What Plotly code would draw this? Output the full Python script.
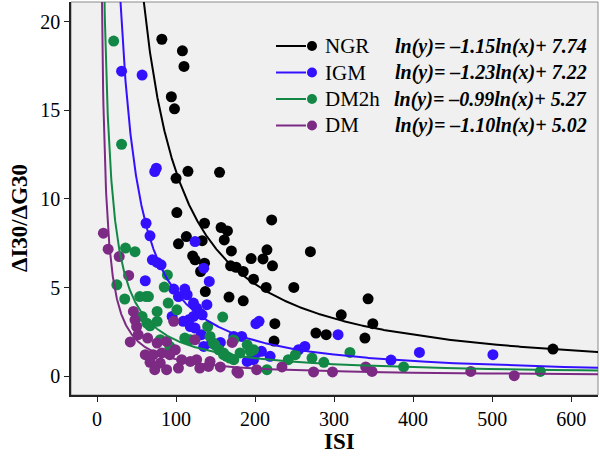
import numpy as np
import plotly.graph_objects as go

groups = ["NGR", "IGM", "DM2h", "DM"]
colors = ["#000000", "#3311ff", "#138846", "#7d2a84"]
slopes = [-1.15, -1.23, -0.99, -1.10]
intercepts = [7.74, 7.22, 5.27, 5.02]
equations = [
    "ln(y)= \u20131.15ln(x)+ 7.74",
    "ln(y)= \u20131.23ln(x)+ 7.22",
    "ln(y)= \u20130.99ln(x)+ 5.27",
    "ln(y)= \u20131.10ln(x)+ 5.02",
]

ngr_x = [82, 108, 110, 94, 98, 100, 115, 155, 101, 136, 157, 165, 161, 170, 195, 113, 103, 133,
         121, 124, 136, 131, 169, 176, 185, 198, 137, 167, 185, 221, 215, 270, 210, 222, 214, 249,
         343, 309, 349, 225, 277, 290, 339, 224, 577]
ngr_y = [19.0, 18.35, 17.47, 15.76, 15.08, 11.16, 11.56, 11.5, 9.23, 8.63, 8.39, 8.2, 7.69, 7.07,
         6.64, 7.88, 7.47, 7.65, 6.79, 6.57, 6.38, 5.91, 6.23, 6.15, 5.91, 5.48, 4.78, 4.47, 4.26,
         8.82, 7.13, 7.03, 6.62, 6.23, 5.01, 5.01, 4.37, 3.47, 2.97, 2.97, 2.44, 2.35, 2.16, 1.99, 1.54]

igm_x = [31, 57, 73, 75, 62, 67, 124, 70, 76, 81, 135, 61, 142, 97, 111, 114, 103, 122, 126, 130,
         122, 116, 109, 118, 124, 95, 201, 205, 132, 135, 145, 156, 173, 183, 190, 198, 202, 139,
         133, 305, 208, 219, 255, 263, 372, 408, 501]
igm_y = [17.2, 16.98, 11.54, 11.73, 8.63, 7.92, 7.6, 6.57, 6.42, 6.29, 6.1, 5.39, 5.35, 4.92, 4.92,
         4.6, 4.5, 4.13, 3.85, 3.57, 3.38, 3.19, 3.1, 2.81, 2.72, 3.38, 2.97, 3.1, 2.35, 1.69, 1.88,
         1.91, 2.25, 2.25, 0.84, 0.94, 1.32, 4.04, 3.47, 2.35, 1.41, 1.13, 1.5, 1.69, 0.92, 1.35, 1.22]

dm2h_x = [21, 31, 36, 48, 25, 35, 62, 65, 54, 85, 89, 90, 101, 57, 63, 76, 76, 67, 159, 140, 111,
          118, 143, 147, 154, 160, 164, 173, 181, 190, 198, 80, 92, 149, 160, 168, 173, 194, 242,
          251, 272, 287, 320, 215, 388, 561]
dm2h_y = [18.9, 13.08, 7.23, 7.03, 5.16, 4.36, 4.5, 4.5, 4.5, 5.03, 5.72, 4.13, 3.75, 3.38, 3.0,
          3.66, 3.1, 2.85, 3.34, 2.81, 2.16, 2.07, 2.25, 1.88, 1.5, 1.32, 1.13, 0.94, 1.32, 1.78,
          1.5, 2.07, 1.69, 1.78, 1.22, 1.03, 2.07, 1.41, 0.94, 1.22, 1.03, 0.79, 1.35, 0.38, 0.53, 0.28]

dm_x = [8, 14, 28, 40, 46, 48, 50, 52, 42, 97, 64, 76, 88, 99, 61, 71, 82, 92, 67, 80, 73, 88, 103,
        107, 118, 126, 130, 141, 156, 124, 171, 177, 202, 143, 179, 234, 274, 298, 340, 348, 473, 528]
dm_y = [8.07, 7.17, 6.75, 5.69, 3.66, 3.19, 2.81, 2.35, 1.94, 3.1, 2.16, 1.88, 1.97, 1.5, 1.22, 1.22,
        1.32, 1.22, 0.79, 0.75, 0.38, 0.38, 0.47, 0.94, 0.84, 0.94, 0.47, 0.56, 0.53, 2.07, 1.91, 0.28,
        0.38, 0.84, 0.19, 0.53, 0.25, 0.25, 0.53, 0.28, 0.28, 0.04]

xs = [ngr_x, igm_x, dm2h_x, dm_x]
ys = [ngr_y, igm_y, dm2h_y, dm_y]

W, H = 600, 461
L, R, T, B = 71, 2, 2, 66
pw, ph = W - L - R, H - T - B

def px2paper(x, y):
    return (x - L) / pw, (H - B - y) / ph

fig = go.Figure()
serif = "Liberation Serif"

for g, c, x, y in zip(groups, colors, xs, ys):
    fig.add_trace(go.Scatter(x=x, y=y, mode="markers", name=g,
                             marker=dict(size=11, color=c, line=dict(width=0)),
                             showlegend=False))

xc = np.linspace(1, 640, 2000)
for g, c, a, b in zip(groups, colors, slopes, intercepts):
    yc = np.exp(b) * xc ** a
    fig.add_trace(go.Scatter(x=xc, y=yc, mode="lines", line=dict(color=c, width=2),
                             showlegend=False, hoverinfo="skip"))

# manual legend
row_y = [46, 72.5, 99, 125.5]
shapes = [dict(type="rect", xref="paper", yref="paper", x0=0, x1=1, y0=0, y1=1,
               line=dict(color="#8a8a8a", width=1), layer="below")]
annotations = []
for g, c, eq, ry in zip(groups, colors, equations, row_y):
    x0, y0 = px2paper(276, ry)
    x1, _ = px2paper(306, ry)
    shapes.append(dict(type="line", xref="paper", yref="paper", x0=x0, x1=x1, y0=y0, y1=y0,
                       line=dict(color=c, width=2)))
    cx0, cy0 = px2paper(307, ry - 5)
    cx1, cy1 = px2paper(317, ry + 5)
    shapes.append(dict(type="circle", xref="paper", yref="paper", x0=cx0, x1=cx1, y0=cy1, y1=cy0,
                       fillcolor=c, line=dict(color=c, width=0)))
    tx, ty = px2paper(323, ry)
    annotations.append(dict(text=g, xref="paper", yref="paper", x=tx, y=ty, xanchor="left",
                            yanchor="middle", showarrow=False,
                            font=dict(family=serif, size=21, color="#000")))
    ex, ey = px2paper(589, ry)
    annotations.append(dict(text="<b><i>" + eq + "</i></b>", xref="paper", yref="paper", x=ex, y=ey,
                            xanchor="right", yanchor="middle", showarrow=False,
                            font=dict(family=serif, size=20, color="#000")))

ax_x, ax_y = px2paper(340, 441)
annotations.append(dict(text="<b>ISI</b>", xref="paper", yref="paper", x=ax_x, y=ax_y,
                        xanchor="center", yanchor="middle", showarrow=False,
                        font=dict(family=serif, size=23, color="#000")))
ay_x, ay_y = px2paper(19, 218)
annotations.append(dict(text="<b>\u0394I30/\u0394G30</b>", xref="paper", yref="paper", x=ay_x, y=ay_y,
                        xanchor="center", yanchor="middle", showarrow=False, textangle=-90,
                        font=dict(family=serif, size=23, color="#000")))

fig.update_layout(
    width=W, height=H,
    margin=dict(l=L, r=R, t=T, b=B, pad=0),
    paper_bgcolor="white", plot_bgcolor="#f0f0f0",
    shapes=shapes, annotations=annotations,
    showlegend=False,
)
fig.update_xaxes(range=[-33, 634], tickvals=[0, 100, 200, 300, 400, 500, 600],
                 showgrid=False, zeroline=False, showline=True, linecolor="#222", linewidth=1.5,
                 ticks="outside", ticklen=5, tickcolor="#222", tickwidth=1,
                 tickfont=dict(family=serif, size=20, color="#000"), tickprefix="<b>", ticksuffix="</b>")
fig.update_yaxes(range=[-1.05, 21.1], tickvals=[0, 5, 10, 15, 20],
                 showgrid=False, zeroline=False, showline=True, linecolor="#222", linewidth=1.5,
                 ticks="outside", ticklen=5, tickcolor="#222", tickwidth=1,
                 tickfont=dict(family=serif, size=20, color="#000"), tickprefix="<b>", ticksuffix="</b>")

fig.write_html("out.html", config={"displayModeBar": False},
               post_script="document.body.style.margin='0';document.body.style.overflow='hidden';")
